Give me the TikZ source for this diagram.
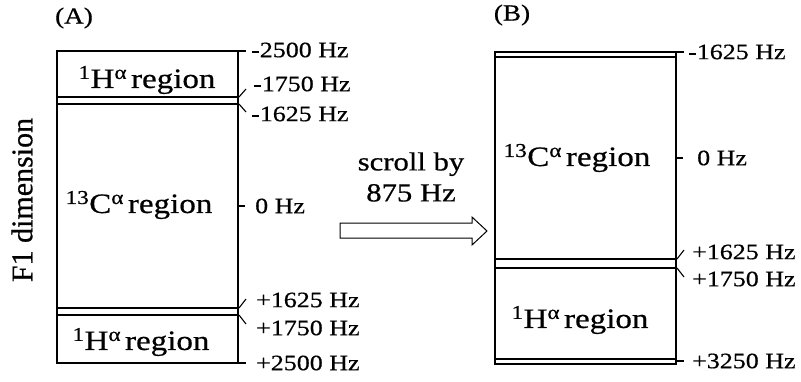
\documentclass[tikz,border=0pt]{standalone}
\usepackage{fontspec}
\setmainfont{Liberation Serif}[FakeStretch=1.18, FakeBold=0.6]
\newfontfamily\plainfont{Liberation Serif}[FakeBold=0.6]
\usetikzlibrary{positioning}
\tikzset{
	edge/.style={line width=2.4pt},
	sepline/.style={line width=1.5pt},
	tickline/.style={line width=1.1pt},
	hzlabel/.style={anchor=west, inner sep=0pt, font=\fontsize{22}{24}\selectfont},
	regionlabel/.style={inner sep=0pt, font=\fontsize{28}{30}\selectfont},
	panellabel/.style={inner sep=0pt, font=\fontsize{23}{24}\selectfont},
	scrolllabel/.style={inner sep=0pt, align=center, font=\fontsize{26}{31}\selectfont},
	scrollarrow/.style={line width=1pt, fill=white},
}
\newcommand{\Hreg}{\textsuperscript{1}H\textsuperscript{α}\kern4pt region}
\newcommand{\Creg}{\textsuperscript{13}C\textsuperscript{α}\kern4pt region}

\begin{document}
\begin{tikzpicture}[x=1pt, y=-1pt]
	\useasboundingbox (0,0) rectangle (801,381);
	% panel A
	\node[panellabel] (alab) at (74,18) {(A)};
	\node[rotate=90, inner sep=0pt, font=\plainfont\fontsize{30}{32}\selectfont] (f1) at (22,200) {F1 dimension};
	\draw[edge] (57,51) rectangle (238,363);
	\foreach \y in {97,104,308,315}{\draw[sepline] (57,\y) -- (238,\y);}
	\node[regionlabel] (ahtop) at (147,80) {\Hreg};
	\node[regionlabel] (ac) at (139,205) {\Creg};
	\node[regionlabel] (ahbot) at (141,342) {\Hreg};
	\draw[tickline] (238,51) -- (246,51);
	\draw[tickline] (239,97) -- (246,89);
	\draw[tickline] (239,104) -- (246,112);
	\draw[tickline] (238,206) -- (245,206);
	\draw[tickline] (239,308) -- (246,299);
	\draw[tickline] (239,315) -- (246,324);
	\draw[tickline] (238,363) -- (246,363);
	\node[hzlabel] (a1) at (251,50) {-2500 Hz};
	\node[hzlabel] (a2) at (253,84) {-1750 Hz};
	\node[hzlabel] (a3) at (251,114) {-1625 Hz};
	\node[hzlabel] (a4) at (255,206) {0 Hz};
	\node[hzlabel] (a5) at (256,300) {+1625 Hz};
	\node[hzlabel] (a6) at (256,328) {+1750 Hz};
	\node[hzlabel] (a7) at (256,363) {+2500 Hz};
	% scroll
	\node[scrolllabel] (scroll) at (411,177) {scroll by\\875 Hz};
	\draw[scrollarrow] (340,223) -- (472,223) -- (472,217) -- (487,231) -- (472,245) -- (472,238) -- (340,238) -- cycle;
	% panel B
	\node[panellabel] (blab) at (512,15) {(B)};
	\draw[edge] (495,52) rectangle (676,364);
	\foreach \y in {57,259,268,359}{\draw[sepline] (495,\y) -- (676,\y);}
	\node[regionlabel] (bc) at (577,158) {\Creg};
	\node[regionlabel] (bh) at (580,320) {\Hreg};
	\draw[tickline] (676,52) -- (684,52);
	\draw[tickline] (676,158) -- (683,158);
	\draw[tickline] (677,259) -- (684,250);
	\draw[tickline] (677,268) -- (684,277);
	\draw[tickline] (676,361) -- (684,361);
	\node[hzlabel] (b1) at (688,52) {-1625 Hz};
	\node[hzlabel] (b2) at (697,158) {0 Hz};
	\node[hzlabel] (b3) at (692,252) {+1625 Hz};
	\node[hzlabel] (b4) at (692,279) {+1750 Hz};
	\node[hzlabel] (b5) at (692,361) {+3250 Hz};
\end{tikzpicture}
\end{document}
